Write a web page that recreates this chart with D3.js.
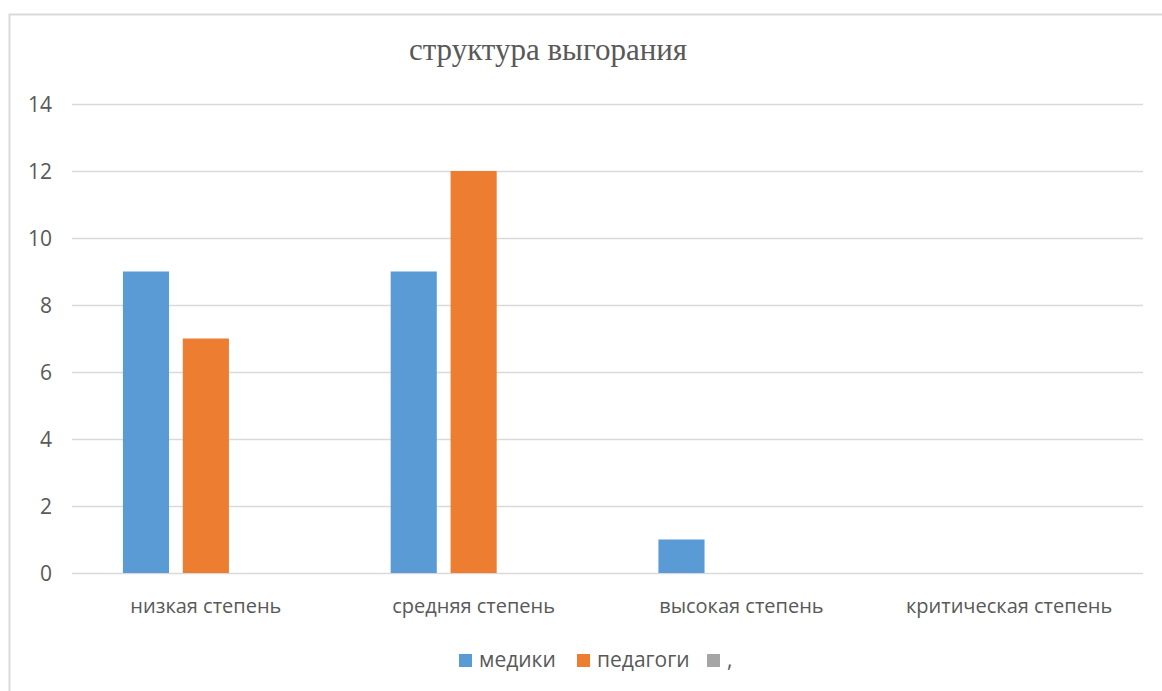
<!DOCTYPE html>
<html><head><meta charset="utf-8">
<script src="https://cdn.jsdelivr.net/npm/d3@7"></script>
<style>body{margin:0;background:#fff;} svg{display:block;}</style>
</head><body>
<svg id="c" width="1162" height="691"></svg>
<script>
const categories = ["низкая степень", "средняя степень", "высокая степень", "критическая степень"];
const seriesNames = ["медики", "педагоги", ","];
const medici = [9, 9, 1, 0];
const pedagogi = [7, 12, 0, 0];
const third = [0, 0, 0, 0];
const yTicks = [0, 2, 4, 6, 8, 10, 12, 14];
const colors = ["#5b9bd5", "#ed7d31", "#a5a5a5"];
const seriesValues = [medici, pedagogi, third];

(function () {
const svg = d3.select("#c");
// frame
svg.append("rect").attr("x", 9.5).attr("y", 14.5).attr("width", 1170).attr("height", 700)
  .attr("fill", "#fff").attr("stroke", "#d9d9d9").attr("stroke-width", 2);

const pLeft = 72, pRight = 1143, pTop = 104, pBottom = 573;
const x = d3.scaleBand().domain(categories).range([pLeft, pRight]);
const y = d3.scaleLinear().domain([0, 14]).range([pBottom, pTop]);
const xs = d3.scaleBand().domain(seriesNames).range([0, x.bandwidth()]).paddingInner(0.23).paddingOuter(0.85);

// gridlines
svg.append("g").selectAll("line").data(yTicks).join("line")
  .attr("x1", pLeft).attr("x2", pRight)
  .attr("y1", d => Math.round(y(d)) + 0.5).attr("y2", d => Math.round(y(d)) + 0.5)
  .attr("stroke", "#d9d9d9").attr("stroke-width", 1.3);

// y axis labels
const yAxis = d3.axisLeft(y).tickValues(yTicks).tickSize(0).tickPadding(0);
const yg = svg.append("g").attr("transform", `translate(52,0)`).call(yAxis);
yg.select(".domain").remove();
yg.selectAll("text").attr("font-family", "'Open Sans', sans-serif").attr("font-size", 21).attr("fill", "#595959").attr("dy", "0.35em");

// bars
seriesValues.forEach((vals, si) => {
  svg.append("g").selectAll("rect").data(vals.map((v, i) => ({v, c: categories[i]})))
    .join("rect")
    .attr("x", d => x(d.c) + xs(seriesNames[si]))
    .attr("width", xs.bandwidth())
    .attr("y", d => y(d.v))
    .attr("height", d => y(0) - y(d.v))
    .attr("fill", colors[si]);
});

// x axis labels
const xAxis = d3.axisBottom(x).tickSize(0).tickPadding(0);
const xg = svg.append("g").attr("transform", `translate(0,${pBottom + 33})`).call(xAxis);
xg.select(".domain").remove();
xg.selectAll("text").attr("font-family", "'Open Sans', sans-serif").attr("font-size", 20).attr("fill", "#595959").attr("dy", "0.35em");

// title
svg.append("text").attr("x", 548).attr("y", 60).attr("text-anchor", "middle")
  .attr("font-family", "'Liberation Serif', serif").attr("font-size", 31).attr("fill", "#595959")
  .text("структура выгорания");

// legend
const legX = [459, 577, 707];
seriesNames.forEach((n, i) => {
  svg.append("rect").attr("x", legX[i]).attr("y", 654).attr("width", 13).attr("height", 13).attr("fill", colors[i]);
  svg.append("text").attr("x", legX[i] + 20).attr("y", 660).attr("dy", "0.35em")
    .attr("font-family", "'Open Sans', sans-serif").attr("font-size", 21).attr("fill", "#595959").text(n);
});
})();
</script>
</body></html>
